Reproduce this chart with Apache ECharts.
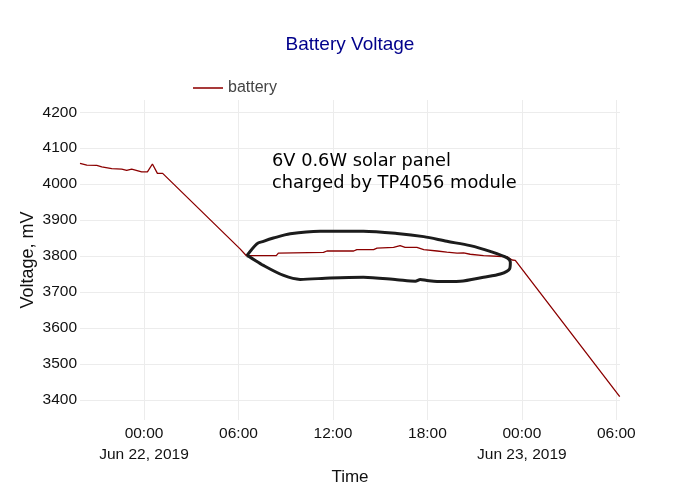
<!DOCTYPE html>
<html>
<head>
<meta charset="utf-8">
<script src="https://cdn.jsdelivr.net/npm/echarts@6/dist/echarts.min.js"></script>
<style>html,body{margin:0;padding:0;background:#fff}#c{width:700px;height:500px}</style>
</head>
<body>
<div id="c"></div>
<script>
// Battery voltage readings (time, mV)
var batteryTimes = [
  '2019-06-21 19:56','2019-06-21 20:22','2019-06-21 21:00','2019-06-21 21:19','2019-06-21 21:57',
  '2019-06-21 22:35','2019-06-21 22:54','2019-06-21 23:13','2019-06-21 23:51','2019-06-22 00:13',
  '2019-06-22 00:32','2019-06-22 00:51','2019-06-22 01:11','2019-06-22 06:06','2019-06-22 06:30',
  '2019-06-22 08:24','2019-06-22 08:32','2019-06-22 11:24','2019-06-22 11:37','2019-06-22 13:19',
  '2019-06-22 13:31','2019-06-22 14:35','2019-06-22 14:48','2019-06-22 15:51','2019-06-22 16:16',
  '2019-06-22 16:35','2019-06-22 17:20','2019-06-22 17:46','2019-06-22 18:37','2019-06-22 19:14',
  '2019-06-22 19:53','2019-06-22 20:18','2019-06-22 20:43','2019-06-22 21:34','2019-06-22 23:04',
  '2019-06-22 23:23','2019-06-22 23:35','2019-06-23 06:13'
];
var batteryMv = [
  4058,4053,4052,4048,4043,
  4042,4038,4042,4034,4034,
  4056,4030,4030,3820,3801,
  3801,3808,3810,3814,3814,
  3818,3818,3822,3824,3829,
  3824,3824,3818,3814,3811,
  3808,3809,3805,3801,3798,
  3789,3788,3409
];
// Hand-drawn loop annotation around the charging period
var loopTimes = [
  '2019-06-22 06:32','2019-06-22 07:10','2019-06-22 07:35','2019-06-22 08:13','2019-06-22 09:17',
  '2019-06-22 11:11','2019-06-22 13:56','2019-06-22 16:04','2019-06-22 17:46','2019-06-22 19:14',
  '2019-06-22 20:43','2019-06-22 21:59','2019-06-22 23:04','2019-06-22 23:16','2019-06-22 23:13',
  '2019-06-22 22:38','2019-06-22 21:34','2019-06-22 20:05','2019-06-22 18:37','2019-06-22 17:58',
  '2019-06-22 17:33','2019-06-22 17:14','2019-06-22 16:04','2019-06-22 13:56','2019-06-22 11:49',
  '2019-06-22 09:55','2019-06-22 08:52','2019-06-22 07:35','2019-06-22 06:44','2019-06-22 06:32'
];
var loopMv = [
  3801,3834,3841,3850,3862,
  3869,3869,3863,3854,3841,
  3829,3813,3795,3783,3764,
  3750,3741,3730,3729,3732,
  3735,3730,3734,3741,3739,
  3735,3746,3774,3797,3801
];
var xTicks = ['2019-06-22 00:00','2019-06-22 06:00','2019-06-22 12:00','2019-06-22 18:00','2019-06-23 00:00','2019-06-23 06:00'];
var yTicks = [3400,3500,3600,3700,3800,3900,4000,4100,4200];
var annotationLines = ['6V 0.6W solar panel', 'charged by TP4056 module'];
var xMin = '2019-06-21 19:56', xMax = '2019-06-23 06:14';
var yMin = 3344, yMax = 4234;

var months = ['Jan','Feb','Mar','Apr','May','Jun','Jul','Aug','Sep','Oct','Nov','Dec'];
function pad(n){return (n<10?'0':'')+n;}
function parseT(s){
  var m = s.match(/(\d+)-(\d+)-(\d+) (\d+):(\d+)/);
  return new Date(+m[1], +m[2]-1, +m[3], +m[4], +m[5]).getTime();
}
function zip(a,b){return a.map(function(t,i){return [parseT(t),b[i]];});}
var xTickVals = xTicks.map(parseT);

var chart = echarts.init(document.getElementById('c'), null, {renderer:'canvas'});
var font = '"Liberation Sans", Arial, sans-serif';
chart.setOption({
  animation: false,
  backgroundColor: '#fff',
  textStyle: {fontFamily: font},
  title: {
    text: 'Battery Voltage', left: 'center', top: 30,
    textStyle: {color: '#00008b', fontSize: 19, fontWeight: 'normal', fontFamily: font}
  },
  legend: {
    left: 188, top: 75, itemWidth: 30, itemHeight: 2, itemGap: 10,
    data: [{name: 'battery', icon: 'rect', itemStyle: {color: '#a83a3a'}}],
    textStyle: {color: '#444', fontSize: 16, fontFamily: font}
  },
  grid: {left: 80, right: 80, top: 100, bottom: 80, containLabel: false},
  xAxis: {
    type: 'value', min: parseT(xMin), max: parseT(xMax), scale: true,
    name: 'Time', nameLocation: 'middle', nameGap: 49, nameMoveOverlap: false,
    nameTextStyle: {color: '#111', fontSize: 17, fontFamily: font},
    axisLine: {show: false},
    axisTick: {show: false, customValues: xTickVals},
    splitLine: {show: true, customValues: xTickVals, lineStyle: {color: '#ececec', width: 1}},
    axisLabel: {
      customValues: xTickVals,
      color: '#111', fontSize: 15.5, fontFamily: font, margin: 3, lineHeight: 21,
      hideOverlap: false,
      formatter: function(v){
        var d = new Date(v);
        var s = pad(d.getHours())+':'+pad(d.getMinutes());
        if (d.getHours()===0 && d.getMinutes()===0) {
          s += '\n' + months[d.getMonth()] + ' ' + d.getDate() + ', ' + d.getFullYear();
        }
        return s;
      }
    }
  },
  yAxis: {
    type: 'value', min: yMin, max: yMax,
    name: 'Voltage, mV', nameLocation: 'middle', nameGap: 43, nameMoveOverlap: false,
    nameTextStyle: {color: '#111', fontSize: 18, fontFamily: font},
    axisLine: {show: false},
    axisTick: {show: false, customValues: yTicks},
    splitLine: {show: true, customValues: yTicks, lineStyle: {color: '#ececec'}},
    axisLabel: {
      customValues: yTicks,
      color: '#111', fontSize: 15.5, fontFamily: font, margin: 3,
      formatter: function(v){ return String(v); }
    }
  },
  series: [
    {
      name: 'battery', type: 'line', data: zip(batteryTimes, batteryMv),
      symbol: 'none', color: '#8b0000',
      lineStyle: {color: '#8b0000', width: 1.3}, z: 3
    },
    {
      name: 'loop', type: 'line', data: zip(loopTimes, loopMv),
      symbol: 'none', smooth: 0.3, silent: true,
      lineStyle: {color: '#1c1c1c', width: 3}, z: 4
    }
  ],
  graphic: [{
    type: 'text', left: 272, top: 150, z: 10,
    style: {
      text: annotationLines.join('\n'),
      fill: '#000', font: '17.8px "DejaVu Sans", sans-serif', lineHeight: 22
    }
  }]
});
</script>
</body>
</html>
